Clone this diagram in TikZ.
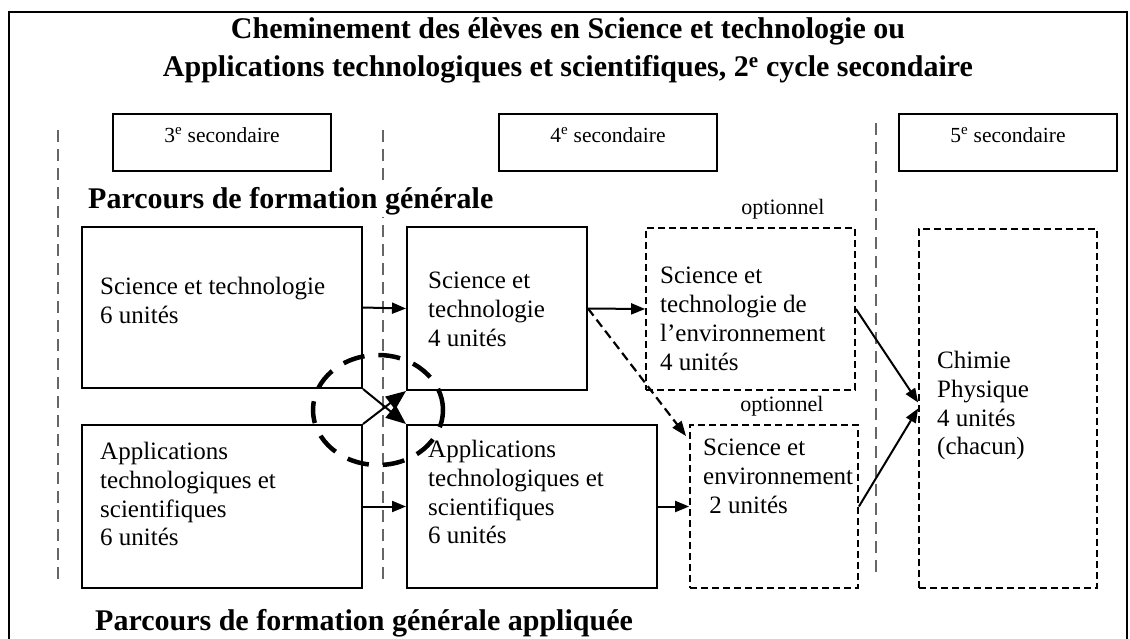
\documentclass[tikz,border=0pt]{standalone}
\usepackage{fontspec}
\setmainfont{Liberation Serif}
\usetikzlibrary{arrows.meta,fit}
\begin{document}
\begin{tikzpicture}[x=1pt,y=-1pt,
  solidbox/.style={draw,line width=2pt,inner sep=0pt},
  dashbox/.style={draw,line width=1.8pt,inner sep=0pt,dash pattern=on 7pt off 4pt},
  head/.style={font=\fontsize{21.5}{25}\selectfont},
  btxt/.style={anchor=north west,inner sep=0pt,align=left,font=\fontsize{25}{28.8}\selectfont},
  parc/.style={anchor=base west,inner sep=2pt,fill=white,font=\fontsize{30}{36}\selectfont\bfseries},
  opt/.style={anchor=base,inner sep=0pt,font=\fontsize{22}{26}\selectfont},
  sep/.style={draw=black!60,line width=2pt,dash pattern=on 12pt off 7pt},
  arr/.style={line width=2pt,-{Triangle[length=14pt,width=11pt]}},
  bigarr/.style={line width=2pt,-{Triangle[length=20pt,width=16pt]}},
  darr/.style={line width=2.2pt,dash pattern=on 9pt off 5pt,-{Triangle[length=15pt,width=11pt]}},
  circ/.style={line width=4.5pt,dash pattern=on 22pt off 14pt}
]
\useasboundingbox (0,0) rectangle (1130,638);
% outer frame
\draw[line width=2.5pt] (9,645) -- (9,12) -- (1127,12) -- (1127,645);
% title
\node[anchor=north,inner sep=0pt,align=center,font=\fontsize{30}{38}\selectfont\bfseries] (title) at (568,17)
  {Cheminement des élèves en Science et technologie ou\\
   Applications technologiques et scientifiques, 2\textsuperscript{e} cycle secondaire};
% separators
\coordinate (s1a) at (58,130); \coordinate (s1b) at (58,585);
\coordinate (s2a) at (383,130); \coordinate (s2b) at (383,585);
\coordinate (s3a) at (876,123); \coordinate (s3b) at (876,578);
\draw[sep] (s1a) -- (s1b);
\draw[sep] (s2a) -- (s2b);
\draw[sep] (s3a) -- (s3b);
% header boxes
\node[solidbox,fit={(113,114) (331,171)},head] (h3) {3\textsuperscript{e} secondaire};
\node[solidbox,fit={(499,114) (717,171)},head] (h4) {4\textsuperscript{e} secondaire};
\node[solidbox,fit={(899,114) (1117,171)},head] (h5) {5\textsuperscript{e} secondaire};
% section labels
\node[parc] (pg) at (86,208) {Parcours de formation générale};
\node[parc] (pga) at (93,630) {Parcours de formation générale appliquée};
\node[opt] (o1) at (783,214) {optionnel};
\node[opt] (o2) at (782,411) {optionnel};
% boxes
\node[solidbox,fit={(82,227) (362,388)}] (st) {};
\node[solidbox,fit={(82,425) (362,588)}] (ats) {};
\node[solidbox,fit={(407,227) (587,390)}] (st4) {};
\node[solidbox,fit={(407,425) (657,588)}] (ats4) {};
\node[dashbox,fit={(646,228) (855,390)}] (ste) {};
\node[dashbox,fit={(690,425) (858,588)}] (se) {};
\node[dashbox,fit={(919,229) (1097,588)}] (chim) {};
% box texts
\node[btxt] (stt) at (100,277) {Science et technologie\\6 unités};
\node[btxt] (atst) at (100,442) {Applications\\technologiques et\\scientifiques\\6 unités};
\node[btxt] (st4t) at (428,272) {Science et\\technologie\\4 unités};
\node[btxt] (ats4t) at (428,440) {Applications\\technologiques et\\scientifiques\\6 unités};
\node[btxt] (stet) at (660,267) {Science et\\technologie de\\l’environnement\\4 unités};
\node[btxt] (set) at (703,439) {Science et\\environnement\\\ 2 unités};
\node[btxt] (chimt) at (937,351) {Chimie\\Physique\\4 unités\\(chacun)};
% connectors
\draw[arr] (st.east) -- (st4.west);
\draw[arr] (ats.east) -- (ats4.west);
\draw[arr] (st4.east) -- (ste.west);
\draw[arr] (ats4.east) -- (se.west);
\draw[darr] (st4.east) -- ([shift={(-3pt,-12pt)}]se.north west);
\draw[arr] (ste.east) -- ([yshift=6pt]chim.west);
\draw[arr] (se.east) -- ([yshift=0pt]chim.west);
\draw[bigarr] (st.south east) -- (ats4.north west);
\draw[bigarr] (ats.north east) -- (st4.south west);
% dashed circle
\draw[circ] (378,410) ellipse [x radius=65pt, y radius=55pt];
\end{tikzpicture}
\end{document}
